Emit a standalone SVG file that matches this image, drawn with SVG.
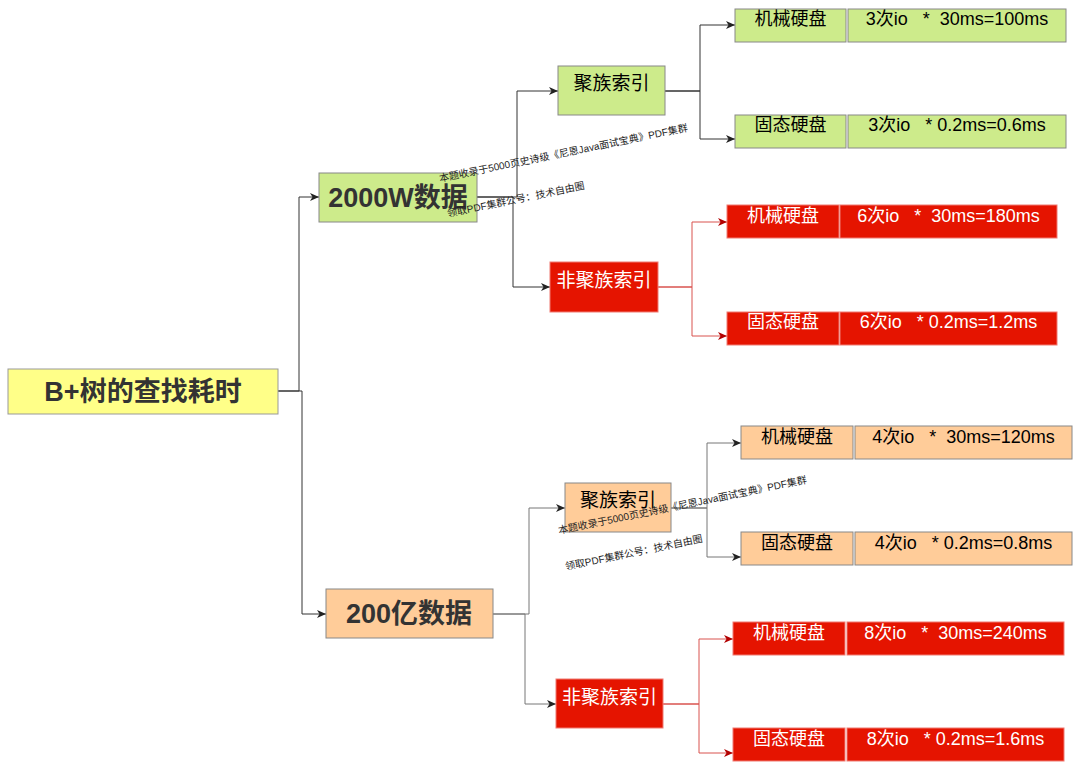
<svg xmlns="http://www.w3.org/2000/svg" width="1080" height="770" viewBox="0 0 1080 770">
<style>
text{font-family:"Liberation Sans","Noto Sans CJK SC",sans-serif;}
.big{font-size:27px;font-weight:bold;fill:#333;text-anchor:middle;}
.idx{font-size:19px;fill:#000;text-anchor:middle;}
.cell{font-size:18px;fill:#000;text-anchor:middle;white-space:pre;}
.w{fill:#fff;}
.g{fill:#cdeb8b;stroke:#888;stroke-width:1;}
.o{fill:#ffcc99;stroke:#888;stroke-width:1;}
.y{fill:#ffff88;stroke:#999;stroke-width:1;}
.r{fill:#e51400;stroke:#f07a72;stroke-width:1;}
.c{fill:none;stroke:#333;stroke-width:1;}
.cg{fill:none;stroke:#777;stroke-width:1;}
.cr{fill:none;stroke:#d9534f;stroke-width:1;}
.wm{font-size:10px;fill:#222;}
</style>
<defs>
<marker id="ak" markerUnits="userSpaceOnUse" markerWidth="10" markerHeight="8" refX="9" refY="4" orient="auto">
<path d="M0,0 L9,4 L0,8 L2.5,4 z" fill="#222"/>
</marker>
<marker id="ar" markerUnits="userSpaceOnUse" markerWidth="10" markerHeight="8" refX="9" refY="4" orient="auto">
<path d="M0,0 L9,4 L0,8 L2.5,4 z" fill="#b20000"/>
</marker>
</defs>
<g id="connectors">
<path class="c" d="M278,391 H299 V197 H319" marker-end="url(#ak)"/>
<path class="c" d="M278,391 H302 V614 H326" marker-end="url(#ak)"/>
<path class="c" d="M477,197 H517 V91 H558" marker-end="url(#ak)"/>
<path class="c" d="M477,197 H513 V287 H550" marker-end="url(#ak)"/>
<path class="c" d="M665,91 H700 V25 H735" marker-end="url(#ak)"/>
<path class="c" d="M665,91 H700 V139 H735" marker-end="url(#ak)"/>
<path class="cr" d="M658,287 H692 V222 H727" marker-end="url(#ar)"/>
<path class="cr" d="M658,287 H692 V336 H727" marker-end="url(#ar)"/>
<path class="cg" d="M493,614 H529 V508 H565" marker-end="url(#ak)"/>
<path class="cg" d="M493,614 H525 V704 H556" marker-end="url(#ak)"/>
<path class="cg" d="M671,508 H707 V443 H741" marker-end="url(#ak)"/>
<path class="cg" d="M671,508 H707 V557 H741" marker-end="url(#ak)"/>
<path class="cr" d="M663,704 H699 V639 H733" marker-end="url(#ar)"/>
<path class="cr" d="M663,704 H699 V753 H733" marker-end="url(#ar)"/>
</g>
<g id="root"><rect class="y" x="8" y="369" width="270" height="45"/><text class="big" x="143" y="401">B+树的查找耗时</text></g>
<g id="n2000w"><rect class="g" x="319" y="173" width="158" height="49"/><text class="big" x="398" y="207">2000W数据</text></g>
<g id="n200y"><rect class="o" x="326" y="589" width="167" height="49"/><text class="big" x="409" y="623">200亿数据</text></g>
<g id="a-clu"><rect class="g" x="558" y="66" width="107" height="49"/><text class="idx" x="611.5" y="90">聚族索引</text></g>
<g id="a-clu-hdd"><rect class="g" x="735" y="9" width="111" height="33"/><text class="cell" x="790.5" y="25">机械硬盘</text></g>
<g id="a-clu-hdd-t"><rect class="g" x="848" y="9" width="218" height="33"/><text class="cell" x="957" y="25" xml:space="preserve">3次io   *  30ms=100ms</text></g>
<g id="a-clu-ssd"><rect class="g" x="735" y="115" width="111" height="33"/><text class="cell" x="790.5" y="131">固态硬盘</text></g>
<g id="a-clu-ssd-t"><rect class="g" x="848" y="115" width="218" height="33"/><text class="cell" x="957" y="131" xml:space="preserve">3次io   * 0.2ms=0.6ms</text></g>
<g id="a-nclu"><rect class="r" x="550" y="262" width="108" height="50"/><text class="idx w" x="604" y="287">非聚族索引</text></g>
<g id="a-nclu-hdd"><rect class="r" x="727" y="205" width="112" height="33"/><text class="cell w" x="783" y="222">机械硬盘</text></g>
<g id="a-nclu-hdd-t"><rect class="r" x="840" y="205" width="217" height="33"/><text class="cell w" x="948.5" y="222" xml:space="preserve">6次io   *  30ms=180ms</text></g>
<g id="a-nclu-ssd"><rect class="r" x="727" y="312" width="112" height="33"/><text class="cell w" x="783" y="328">固态硬盘</text></g>
<g id="a-nclu-ssd-t"><rect class="r" x="840" y="312" width="217" height="33"/><text class="cell w" x="948.5" y="328" xml:space="preserve">6次io   * 0.2ms=1.2ms</text></g>
<g id="b-clu"><rect class="o" x="565" y="483" width="106" height="49"/><text class="idx" x="618" y="507">聚族索引</text></g>
<g id="b-clu-hdd"><rect class="o" x="741" y="426" width="112" height="33"/><text class="cell" x="797" y="443">机械硬盘</text></g>
<g id="b-clu-hdd-t"><rect class="o" x="855" y="426" width="217" height="33"/><text class="cell" x="963.5" y="443" xml:space="preserve">4次io   *  30ms=120ms</text></g>
<g id="b-clu-ssd"><rect class="o" x="741" y="532" width="112" height="33"/><text class="cell" x="797" y="549">固态硬盘</text></g>
<g id="b-clu-ssd-t"><rect class="o" x="855" y="532" width="217" height="33"/><text class="cell" x="963.5" y="549" xml:space="preserve">4次io   * 0.2ms=0.8ms</text></g>
<g id="b-nclu"><rect class="r" x="556" y="679" width="107" height="49"/><text class="idx w" x="609.5" y="704">非聚族索引</text></g>
<g id="b-nclu-hdd"><rect class="r" x="733" y="622" width="112" height="33"/><text class="cell w" x="789" y="639">机械硬盘</text></g>
<g id="b-nclu-hdd-t"><rect class="r" x="847" y="622" width="217" height="33"/><text class="cell w" x="955.5" y="639" xml:space="preserve">8次io   *  30ms=240ms</text></g>
<g id="b-nclu-ssd"><rect class="r" x="733" y="728" width="112" height="33"/><text class="cell w" x="789" y="745">固态硬盘</text></g>
<g id="b-nclu-ssd-t"><rect class="r" x="847" y="728" width="217" height="33"/><text class="cell w" x="955.5" y="745" xml:space="preserve">8次io   * 0.2ms=1.6ms</text></g>
<g id="watermark">
<text class="wm" x="440" y="182" transform="rotate(-11.6 440 182)">本题收录于5000页史诗级《尼恩Java面试宝典》PDF集群</text>
<text class="wm" x="448" y="217" transform="rotate(-11.6 448 217)">领取PDF集群公号：技术自由圈</text>
<text class="wm" x="559" y="534" transform="rotate(-11.6 559 534)">本题收录于5000页史诗级《尼恩Java面试宝典》PDF集群</text>
<text class="wm" x="566" y="570" transform="rotate(-11.6 566 570)">领取PDF集群公号：技术自由圈</text>
</g>
</svg>
